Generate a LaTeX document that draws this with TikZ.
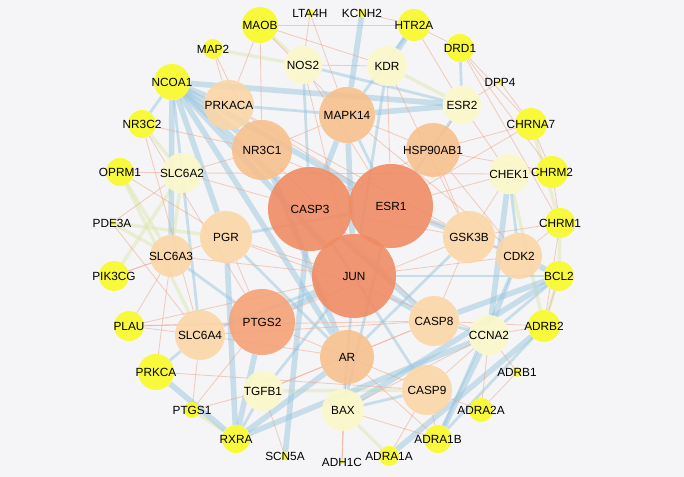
\documentclass[tikz,border=0pt]{standalone}
\usepackage{fontspec}
\setmainfont{Liberation Sans}
\pgfdeclarelayer{back}
\pgfsetlayers{back,main}
\definecolor{bgcol}{RGB}{245,245,247}
\definecolor{hub}{RGB}{240,140,100}
\definecolor{mid}{RGB}{245,162,120}
\definecolor{warm}{RGB}{247,192,142}
\definecolor{tan}{RGB}{250,214,166}
\definecolor{pale}{RGB}{252,248,200}
\definecolor{lemon}{RGB}{250,250,40}
\definecolor{bluelink}{RGB}{155,198,222}
\definecolor{redlink}{RGB}{240,160,130}
\definecolor{greenlink}{RGB}{225,232,185}

\begin{document}
\begin{tikzpicture}[x=0.025cm, y=-0.025cm,
  gene/.style={circle, inner sep=0pt, fill opacity=0.9, minimum size={#1*0.05cm}},
  every label/.style={font=\fontsize{8.4}{10}\selectfont, text=black, inner sep=0pt},
  fatlink/.style={bluelink, line width=4pt, opacity=0.5},
  bluelinkthin/.style={bluelink, line width=2pt, opacity=0.5},
  redlinkthin/.style={redlink, line width=0.6pt, opacity=0.5},
  greenlinkthin/.style={greenlink, line width=2.4pt, opacity=0.6}]

\node [gene=42, fill=hub, label=center:CASP3] (CASP3) at (310,209) {};
\node [gene=42, fill=hub, label=center:ESR1] (ESR1) at (391,206) {};
\node [gene=42, fill=hub, label=center:JUN] (JUN) at (354,276) {};
\node [gene=33, fill=mid, label=center:PTGS2] (PTGS2) at (262,322) {};
\node [gene=30, fill=warm, label=center:NR3C1] (NR3C1) at (262,150) {};
\node [gene=28, fill=warm, label=center:MAPK14] (MAPK14) at (347,115) {};
\node [gene=27, fill=warm, label=center:AR] (AR) at (347,357) {};
\node [gene=27, fill=warm, label=center:HSP90AB1] (HSP90AB1) at (433,150) {};
\node [gene=25, fill=tan, label=center:PRKACA] (PRKACA) at (229,105) {};
\node [gene=26, fill=tan, label=center:PGR] (PGR) at (226,237) {};
\node [gene=26, fill=tan, label=center:GSK3B] (GSK3B) at (469,237) {};
\node [gene=23, fill=tan, label=center:CDK2] (CDK2) at (519,256) {};
\node [gene=21, fill=tan, label=center:SLC6A3] (SLC6A3) at (171,256) {};
\node [gene=25, fill=tan, label=center:SLC6A4] (SLC6A4) at (200,335) {};
\node [gene=25, fill=tan, label=center:CASP8] (CASP8) at (434,321) {};
\node [gene=25, fill=tan, label=center:CASP9] (CASP9) at (427,390) {};
\node [gene=19, fill=pale, label=center:NOS2] (NOS2) at (303,65) {};
\node [gene=20, fill=pale, label=center:KDR] (KDR) at (387,66) {};
\node [gene=19, fill=pale, label=center:ESR2] (ESR2) at (462,105) {};
\node [gene=20, fill=pale, label=center:CHEK1] (CHEK1) at (509,174) {};
\node [gene=20, fill=pale, label=center:SLC6A2] (SLC6A2) at (182,173) {};
\node [gene=20, fill=pale, label=center:CCNA2] (CCNA2) at (489,335) {};
\node [gene=20, fill=pale, label=center:TGFB1] (TGFB1) at (263,391) {};
\node [gene=21, fill=pale, label=center:BAX] (BAX) at (343,410) {};

\node [gene=18, fill=lemon, label=center:MAOB] (MAOB) at (260,25) {};
\node [gene=4, fill=lemon, label=center:LTA4H] (LTA4H) at (310,13) {};
\node [gene=4, fill=lemon, label=center:KCNH2] (KCNH2) at (362,13) {};
\node [gene=16, fill=lemon, label=center:HTR2A] (HTR2A) at (414,25) {};
\node [gene=14, fill=lemon, label=center:DRD1] (DRD1) at (460,48) {};
\node [gene=3, fill=lemon, label=center:DPP4] (DPP4) at (500,82) {};
\node [gene=16, fill=lemon, label=center:CHRNA7] (CHRNA7) at (531,124) {};
\node [gene=16, fill=lemon, label=center:CHRM2] (CHRM2) at (552,172) {};
\node [gene=15, fill=lemon, label=center:CHRM1] (CHRM1) at (560,223) {};
\node [gene=15, fill=lemon, label=center:BCL2] (BCL2) at (559,276) {};
\node [gene=16, fill=lemon, label=center:ADRB2] (ADRB2) at (544,326) {};
\node [gene=5, fill=lemon, label=center:ADRB1] (ADRB1) at (517,372) {};
\node [gene=12, fill=lemon, label=center:ADRA2A] (ADRA2A) at (481,410) {};
\node [gene=14, fill=lemon, label=center:ADRA1B] (ADRA1B) at (438,439) {};
\node [gene=10, fill=lemon, label=center:ADRA1A] (ADRA1A) at (389,456) {};
\node [gene=2, fill=lemon, label=center:ADH1C] (ADH1C) at (342,462) {};
\node [gene=4, fill=lemon, label=center:SCN5A] (SCN5A) at (285,456) {};
\node [gene=14, fill=lemon, label=center:RXRA] (RXRA) at (236,439) {};
\node [gene=8, fill=lemon, label=center:PTGS1] (PTGS1) at (192,410) {};
\node [gene=18, fill=lemon, label=center:PRKCA] (PRKCA) at (156,372) {};
\node [gene=15, fill=lemon, label=center:PLAU] (PLAU) at (129,326) {};
\node [gene=15, fill=lemon, label=center:PIK3CG] (PIK3CG) at (114,276) {};
\node [gene=3, fill=lemon, label=center:PDE3A] (PDE3A) at (112,223) {};
\node [gene=14, fill=lemon, label=center:OPRM1] (OPRM1) at (120,172) {};
\node [gene=14, fill=lemon, label=center:NR3C2] (NR3C2) at (142,124) {};
\node [gene=18, fill=lemon, label=center:NCOA1] (NCOA1) at (172,82) {};
\node [gene=10, fill=lemon, label=center:MAP2] (MAP2) at (213,49) {};

\begin{pgfonlayer}{back}
\fill [bgcol] (0,0) rectangle (684,477);
\foreach \a/\b in {SLC6A2/SLC6A3, PIK3CG/SLC6A2, OPRM1/SLC6A4, TGFB1/CASP9, ADRA1A/BAX,
  MAOB/NOS2, KDR/ESR2, CHEK1/ADRB2, PTGS1/RXRA, NR3C2/SLC6A2, PDE3A/SLC6A3, OPRM1/SLC6A3,
  PDE3A/PGR, CHRNA7/CHRM1, CHRM1/BCL2, BCL2/ADRB2, MAP2/NOS2}
  \draw [greenlinkthin] (\a) -- (\b);
\foreach \a/\b in {NCOA1/PRKACA, NCOA1/NR3C1, NCOA1/CASP3, NCOA1/PGR, NCOA1/ESR2, NCOA1/JUN,
  NCOA1/SLC6A3, NCOA1/ESR1, NCOA1/AR, RXRA/PTGS2, RXRA/AR, RXRA/PGR, RXRA/CCNA2, PRKCA/RXRA,
  HTR2A/KDR, KCNH2/MAPK14, MAPK14/ESR2, MAPK14/CASP3, MAPK14/JUN, CHEK1/CCNA2, BCL2/CDK2,
  BCL2/CASP8, BCL2/BAX, ADRA1B/CCNA2, ADRA1A/ADRB2, SCN5A/CASP3, CASP3/CASP8, JUN/CASP8,
  ESR1/GSK3B, NR3C1/AR, PTGS2/JUN}
  \draw [fatlink] (\a) -- (\b);
\foreach \a/\b in {NCOA1/NR3C2, NCOA1/SLC6A4, RXRA/TGFB1, HTR2A/MAPK14, MAPK14/ESR1, ESR1/ESR2,
  CHEK1/CDK2, CDK2/CCNA2, BCL2/JUN, BCL2/CCNA2, ADRA1B/ADRB2, ADRA1B/CDK2, BAX/CASP9, BAX/JUN,
  CASP3/CASP9, PGR/AR, TGFB1/JUN, GSK3B/CDK2, CASP8/CCNA2, PRKACA/MAPK14, NOS2/CASP3, KDR/JUN,
  SLC6A4/JUN, SLC6A3/PTGS2, DRD1/ESR2, PRKCA/SLC6A4, NOS2/ESR2, BAX/ESR1, AR/GSK3B, PGR/ESR1}
  \draw [bluelinkthin] (\a) -- (\b);
\foreach \a/\b in {MAOB/PRKACA, MAOB/NR3C1, MAOB/KDR, MAOB/MAPK14, MAOB/HTR2A, MAP2/PRKACA,
  MAP2/NR3C1, LTA4H/NOS2, LTA4H/MAPK14, KCNH2/HTR2A, HTR2A/DRD1, HTR2A/ESR2, DRD1/CHRNA7,
  DRD1/CHRM2, DRD1/CHRM1, DPP4/CHRNA7, DPP4/ESR2, CHRNA7/HSP90AB1, CHRNA7/CHRM2, CHRNA7/ESR1,
  CHRM2/HSP90AB1, CHRM2/CHRM1, CHRM2/CHEK1, CHRM1/GSK3B, CHRM1/CDK2, CHRM1/ADRB2, BCL2/ADRB2,
  ADRB2/CCNA2, ADRB2/CASP8, ADRB1/CCNA2, ADRB1/ADRA2A, ADRA2A/CASP9, ADRA2A/CCNA2, ADRA1B/CASP9,
  ADRA1B/BAX, ADRA1B/AR, ADRA1A/CASP9, ADH1C/BAX, ADH1C/AR, SCN5A/TGFB1, PTGS1/SLC6A4,
  PTGS1/PTGS2, PTGS1/TGFB1, PRKCA/SLC6A3, PRKCA/CASP9, PLAU/SLC6A4, PLAU/SLC6A3, PLAU/PTGS2,
  PLAU/JUN, PLAU/CASP8, PIK3CG/SLC6A3, PIK3CG/PGR, PDE3A/SLC6A2, PDE3A/SLC6A4, OPRM1/SLC6A2,
  OPRM1/PGR, NR3C2/NR3C1, NR3C2/SLC6A4, NR3C2/PTGS2, SLC6A2/NR3C1, SLC6A2/CASP3, NOS2/ESR1,
  NOS2/JUN, NOS2/KDR, KDR/ESR1, KDR/GSK3B, ESR2/HSP90AB1, ESR2/CHEK1, HSP90AB1/GSK3B,
  HSP90AB1/CDK2, HSP90AB1/CASP3, CHEK1/GSK3B, CHEK1/ESR1, GSK3B/CASP8, GSK3B/PTGS2, PGR/PTGS2,
  PGR/JUN, SLC6A3/JUN, SLC6A4/CASP8, SLC6A4/AR, TGFB1/CASP8, TGFB1/AR, BAX/CCNA2, CASP9/CCNA2,
  AR/CASP8, NR3C1/ESR1, NR3C1/MAPK14, PRKACA/ESR1, PRKACA/GSK3B, MAPK14/CDK2, MAPK14/HSP90AB1,
  CASP3/GSK3B, ESR1/CDK2, JUN/CDK2, PTGS2/CASP9, SLC6A2/CHEK1, NR3C1/CASP8, PGR/CCNA2}
  \draw [redlinkthin] (\a) -- (\b);
\end{pgfonlayer}

\end{tikzpicture}
\end{document}
